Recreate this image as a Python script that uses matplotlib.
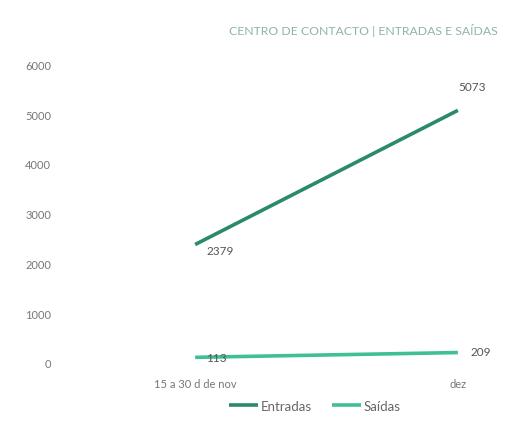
import matplotlib
matplotlib.use("Agg")
import matplotlib.pyplot as plt

categories = ["15 a 30 d de nov", "dez"]
entradas = [2379, 5073]
saidas = [113, 209]
yticks = [0, 1000, 2000, 3000, 4000, 5000, 6000]
title = "CENTRO DE CONTACTO | ENTRADAS E SAÍDAS"

plt.rcParams['font.family'] = ['Lato', 'DejaVu Sans']

fig = plt.figure(figsize=(5.11, 4.35), dpi=100)
ax = fig.add_axes([0.13, 0.138, 0.84, 0.747])

x = list(range(len(categories)))
c_ent = "#2b8a68"
c_sai = "#3fbf97"
ax.plot(x, entradas, color=c_ent, lw=2.6, solid_capstyle='butt', label="Entradas")
ax.plot(x, saidas, color=c_sai, lw=2.6, solid_capstyle='butt', label="Saídas")

tc = "#555555"
ax.annotate(str(entradas[0]), (x[0], entradas[0]), xytext=(8, -4), textcoords='offset points',
            fontsize=8.5, color=tc, ha='left', va='center')
ax.annotate(str(entradas[1]), (x[1], entradas[1]), xytext=(0, 17), textcoords='offset points',
            fontsize=8.5, color=tc, ha='left', va='center')
ax.annotate(str(saidas[0]), (x[0], saidas[0]), xytext=(8, 0), textcoords='offset points',
            fontsize=8.5, color=tc, ha='left', va='center')
ax.annotate(str(saidas[1]), (x[1], saidas[1]), xytext=(9, 1), textcoords='offset points',
            fontsize=8.5, color=tc, ha='left', va='center')

ax.set_xlim(-0.49, 1.144)
ax.set_ylim(-221, 6305)
ax.set_xticks(x)
ax.set_xticklabels(categories)
ax.set_yticks(yticks)
ax.tick_params(axis='both', length=0, labelsize=8, labelcolor="#777777")
ax.tick_params(axis='y', pad=11)
ax.tick_params(axis='x', pad=3)
for s in ax.spines.values():
    s.set_visible(False)

fig.text(0.712, 0.93, title, ha='center', va='center', fontsize=8.8, color="#8fb3ad")

fig.legend(loc='center', bbox_to_anchor=(0.616, 0.065), ncol=2, frameon=False,
           fontsize=9.5, handlelength=2.2, handletextpad=0.2, columnspacing=1.5,
           labelcolor="#666666")

fig.savefig("out.png", dpi=100)
